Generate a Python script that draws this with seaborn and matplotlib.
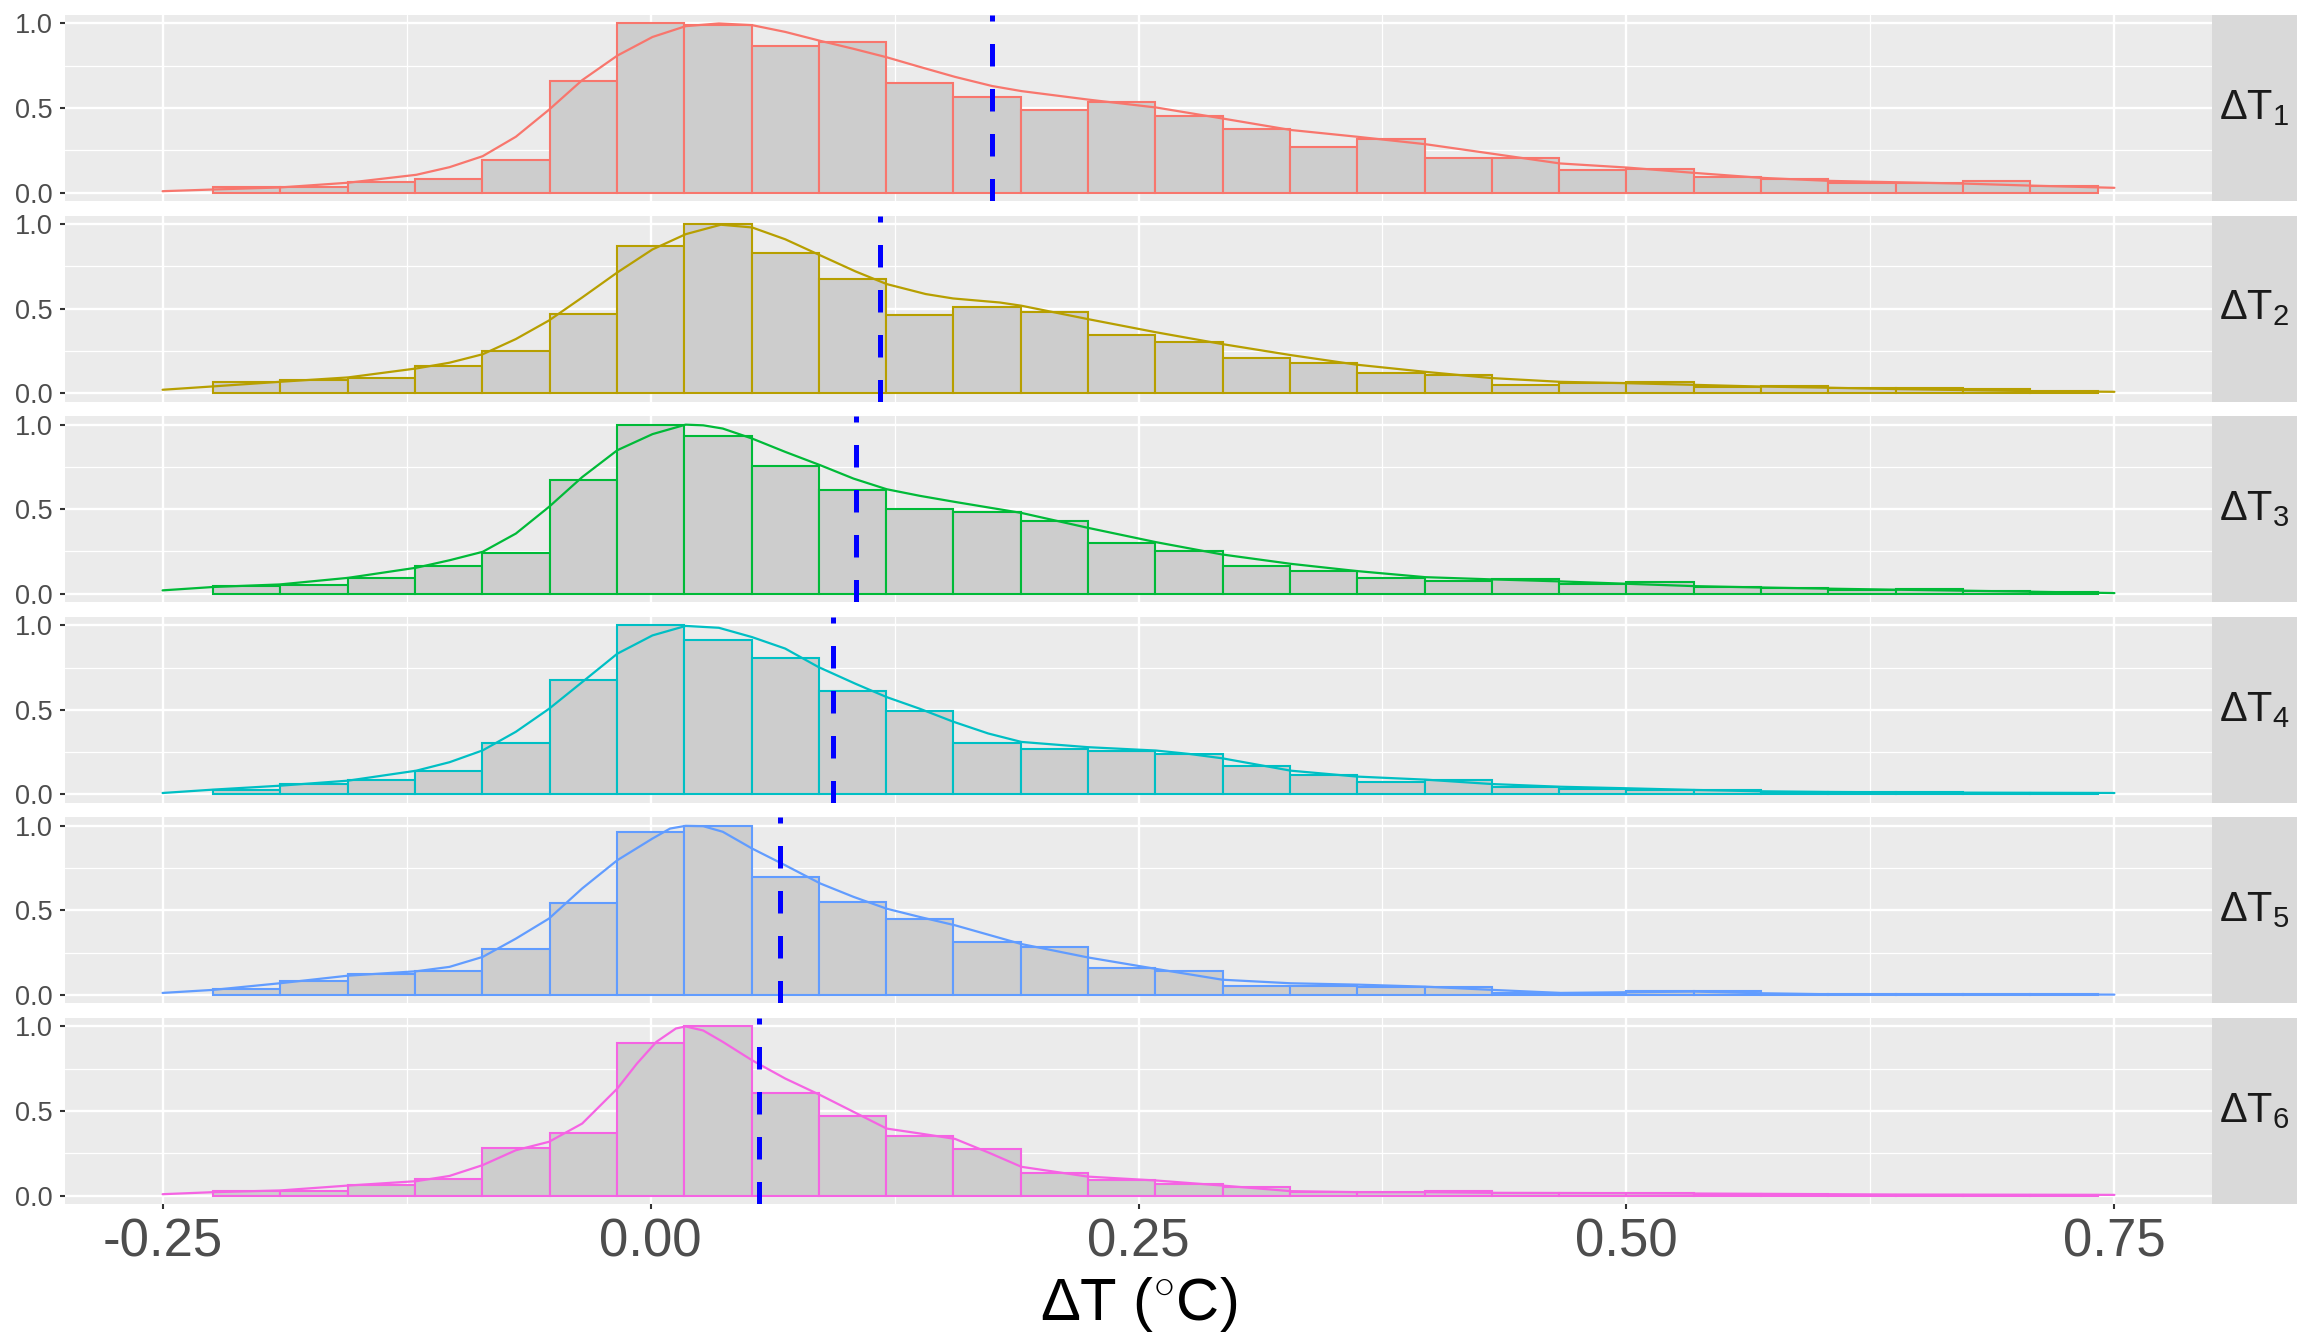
import numpy as np
import pandas as pd
import matplotlib
matplotlib.use("Agg")
import matplotlib.pyplot as plt
from matplotlib.ticker import FixedLocator
import seaborn as sns

sns.set_theme(style="darkgrid")
plt.rcParams["font.family"] = ["Liberation Sans", "DejaVu Sans"]
plt.rcParams["mathtext.fontset"] = "custom"
plt.rcParams["mathtext.rm"] = "Liberation Sans"
plt.rcParams["mathtext.it"] = "Liberation Sans:italic"
plt.rcParams["mathtext.bf"] = "Liberation Sans:bold"

# ---------------------------------------------------------------- data
series = ["1", "2", "3", "4", "5", "6"]
palette = ["#F8766D", "#B79F00", "#00BA38", "#00BFC4", "#619CFF", "#F564E3"]

# histogram bins (30 bins over the range, centred on 0)
bin_width = 1 / 29
bin_centers = (np.arange(28) - 6) * bin_width
bin_edges = list(np.append(bin_centers - bin_width / 2, bin_centers[-1] + bin_width / 2))

# bar heights, scaled so the tallest bar is 1
ncount_1 = [0.03, 0.03, 0.063, 0.079, 0.19, 0.66, 1.0, 0.99, 0.866, 0.89, 0.65, 0.564, 0.487, 0.536,
            0.454, 0.375, 0.27, 0.318, 0.203, 0.203, 0.136, 0.142, 0.093, 0.079, 0.059, 0.057, 0.067, 0.037]
ncount_2 = [0.067, 0.079, 0.087, 0.16, 0.252, 0.471, 0.87, 1.0, 0.83, 0.677, 0.46, 0.51, 0.48, 0.343,
            0.30, 0.205, 0.18, 0.118, 0.108, 0.049, 0.059, 0.063, 0.034, 0.043, 0.03, 0.028, 0.022, 0.014]
ncount_3 = [0.047, 0.05, 0.094, 0.165, 0.242, 0.67, 1.0, 0.93, 0.756, 0.612, 0.50, 0.482, 0.433, 0.30,
            0.252, 0.165, 0.134, 0.093, 0.075, 0.089, 0.059, 0.067, 0.037, 0.035, 0.024, 0.026, 0.018, 0.008]
ncount_4 = [0.028, 0.06, 0.083, 0.136, 0.304, 0.678, 1.0, 0.915, 0.806, 0.61, 0.49, 0.302, 0.269, 0.259,
            0.239, 0.17, 0.115, 0.071, 0.087, 0.045, 0.034, 0.028, 0.028, 0.016, 0.012, 0.012, 0.01, 0.008]
ncount_5 = [0.035, 0.085, 0.124, 0.142, 0.272, 0.543, 0.965, 1.0, 0.695, 0.551, 0.449, 0.315, 0.285, 0.157,
            0.14, 0.051, 0.051, 0.045, 0.045, 0.012, 0.006, 0.026, 0.022, 0.006, 0.006, 0.006, 0.006, 0.004]
ncount_6 = [0.024, 0.024, 0.065, 0.098, 0.28, 0.37, 0.90, 1.0, 0.606, 0.472, 0.354, 0.276, 0.132, 0.094,
            0.069, 0.049, 0.02, 0.02, 0.024, 0.016, 0.016, 0.016, 0.01, 0.01, 0.004, 0.004, 0.004, 0.004]
ncounts = [ncount_1, ncount_2, ncount_3, ncount_4, ncount_5, ncount_6]

# scaled density curves (x, y)
dens_x_1 = [-0.25, -0.224, -0.19, -0.155, -0.12, -0.103, -0.086, -0.069, -0.052, -0.035, -0.017, 0.001,
            0.018, 0.035, 0.052, 0.069, 0.087, 0.104, 0.121, 0.138, 0.156, 0.175, 0.19, 0.224, 0.259, 0.293,
            0.328, 0.362, 0.397, 0.431, 0.466, 0.5, 0.535, 0.569, 0.604, 0.638, 0.673, 0.707, 0.75]
dens_y_1 = [0.008, 0.018, 0.03, 0.058, 0.105, 0.15, 0.215, 0.33, 0.49, 0.665, 0.81, 0.92,
            0.984, 1.0, 0.99, 0.95, 0.897, 0.85, 0.80, 0.743, 0.684, 0.63, 0.60, 0.55, 0.503, 0.438,
            0.37, 0.33, 0.286, 0.23, 0.172, 0.148, 0.116, 0.087, 0.069, 0.061, 0.053, 0.041, 0.028]
dens_x_2 = [-0.25, -0.224, -0.19, -0.155, -0.12, -0.103, -0.086, -0.069, -0.052, -0.035, -0.017, 0.001,
            0.018, 0.036, 0.052, 0.069, 0.086, 0.105, 0.121, 0.141, 0.155, 0.179, 0.19, 0.224, 0.259, 0.293,
            0.328, 0.362, 0.397, 0.431, 0.466, 0.5, 0.535, 0.569, 0.604, 0.638, 0.673, 0.707, 0.75]
dens_y_2 = [0.02, 0.04, 0.067, 0.093, 0.146, 0.18, 0.23, 0.32, 0.43, 0.566, 0.714, 0.85,
            0.94, 0.996, 0.98, 0.91, 0.82, 0.72, 0.645, 0.586, 0.56, 0.536, 0.517, 0.438, 0.36, 0.29,
            0.225, 0.168, 0.126, 0.089, 0.067, 0.059, 0.049, 0.039, 0.032, 0.024, 0.018, 0.012, 0.008]
dens_x_3 = [-0.25, -0.224, -0.19, -0.155, -0.12, -0.103, -0.086, -0.069, -0.052, -0.035, -0.017, 0.001,
            0.018, 0.027, 0.037, 0.052, 0.069, 0.087, 0.104, 0.121, 0.138, 0.156, 0.19, 0.224, 0.259,
            0.293, 0.328, 0.362, 0.397, 0.431, 0.466, 0.5, 0.535, 0.569, 0.604, 0.638, 0.673, 0.707, 0.75]
dens_y_3 = [0.02, 0.04, 0.055, 0.094, 0.154, 0.198, 0.248, 0.356, 0.514, 0.69, 0.849, 0.944,
            1.0, 0.996, 0.977, 0.918, 0.839, 0.76, 0.681, 0.618, 0.579, 0.543, 0.478, 0.39, 0.305,
            0.232, 0.177, 0.134, 0.098, 0.085, 0.073, 0.059, 0.045, 0.037, 0.03, 0.024, 0.018, 0.012, 0.004]
dens_x_4 = [-0.25, -0.224, -0.19, -0.155, -0.12, -0.103, -0.086, -0.069, -0.052, -0.035, -0.017, 0.001,
            0.018, 0.035, 0.052, 0.069, 0.086, 0.105, 0.121, 0.138, 0.155, 0.173, 0.19, 0.224, 0.259,
            0.276, 0.293, 0.328, 0.362, 0.397, 0.431, 0.466, 0.5, 0.535, 0.569, 0.604, 0.673, 0.75]
dens_y_4 = [0.008, 0.028, 0.051, 0.081, 0.14, 0.19, 0.26, 0.37, 0.506, 0.664, 0.832, 0.94,
            0.996, 0.985, 0.93, 0.862, 0.753, 0.654, 0.575, 0.506, 0.43, 0.36, 0.31, 0.279, 0.259,
            0.239, 0.213, 0.14, 0.105, 0.087, 0.061, 0.045, 0.036, 0.026, 0.018, 0.014, 0.01, 0.008]
dens_x_5 = [-0.25, -0.224, -0.19, -0.155, -0.12, -0.103, -0.086, -0.069, -0.052, -0.035, -0.017, 0.001,
            0.01, 0.018, 0.027, 0.037, 0.052, 0.069, 0.087, 0.104, 0.121, 0.138, 0.156, 0.19, 0.224,
            0.259, 0.293, 0.328, 0.362, 0.397, 0.431, 0.466, 0.5, 0.535, 0.569, 0.604, 0.75]
dens_y_5 = [0.012, 0.03, 0.069, 0.114, 0.14, 0.166, 0.225, 0.333, 0.452, 0.63, 0.797, 0.925,
            0.984, 1.0, 0.998, 0.965, 0.866, 0.767, 0.659, 0.58, 0.51, 0.461, 0.412, 0.301, 0.222,
            0.154, 0.09, 0.069, 0.061, 0.049, 0.03, 0.012, 0.016, 0.02, 0.01, 0.004, 0.002]
dens_x_6 = [-0.25, -0.224, -0.19, -0.155, -0.12, -0.103, -0.086, -0.069, -0.052, -0.035, -0.017, -0.007,
            0.003, 0.013, 0.018, 0.027, 0.037, 0.052, 0.069, 0.087, 0.104, 0.121, 0.138, 0.156, 0.173,
            0.19, 0.224, 0.259, 0.293, 0.328, 0.362, 0.397, 0.431, 0.5, 0.569, 0.638, 0.75]
dens_y_6 = [0.008, 0.02, 0.03, 0.059, 0.085, 0.116, 0.18, 0.268, 0.318, 0.426, 0.633, 0.78,
            0.909, 0.988, 1.0, 0.976, 0.909, 0.80, 0.692, 0.594, 0.495, 0.396, 0.367, 0.335, 0.255,
            0.17, 0.112, 0.089, 0.059, 0.026, 0.02, 0.02, 0.016, 0.014, 0.01, 0.006, 0.004]
dens_x = [dens_x_1, dens_x_2, dens_x_3, dens_x_4, dens_x_5, dens_x_6]
dens_y = [dens_y_1, dens_y_2, dens_y_3, dens_y_4, dens_y_5, dens_y_6]

# mean of each series
means = [0.175, 0.1177, 0.1055, 0.0935, 0.0665, 0.0555]

x_ticks = [-0.25, 0.0, 0.25, 0.50, 0.75]
x_tick_labels = ["-0.25", "0.00", "0.25", "0.50", "0.75"]
x_minor = [-0.125, 0.125, 0.375, 0.625]
y_ticks = [0.0, 0.5, 1.0]
y_tick_labels = ["0.0", "0.5", "1.0"]
y_minor = [0.25, 0.75]

# ---------------------------------------------------------------- layout
W, H = 2297, 1336
fig = plt.figure(figsize=(W / 100, H / 100), dpi=100)
fig.patch.set_facecolor("white")

panel_left, panel_right = 65, 2212
strip_right = 2297
panel_h = 186
panel_step = 200.6
panel_top0 = 15

FILL = "#CDCDCD"
PANEL_BG = "#EBEBEB"
STRIP_BG = "#D9D9D9"

for i, name in enumerate(series):
    top = panel_top0 + i * panel_step
    rect = [panel_left / W, 1 - (top + panel_h) / H, (panel_right - panel_left) / W, panel_h / H]
    ax = fig.add_axes(rect)
    ax.set_facecolor(PANEL_BG)
    ax.set_axisbelow(True)

    bars = pd.DataFrame({"center": bin_centers, "ncount": ncounts[i]})
    sns.histplot(data=bars, x="center", weights="ncount", bins=bin_edges, ax=ax,
                 facecolor=FILL, edgecolor=palette[i], linewidth=1.5, zorder=2)
    sns.lineplot(x=dens_x[i], y=dens_y[i], ax=ax, color=palette[i], linewidth=1.6, zorder=3)
    ax.axvline(means[i], color="blue", linewidth=3.6, linestyle=(0, (4.5, 4.5)), zorder=4)

    ax.set_xlim(-0.30, 0.80)
    ax.set_ylim(-0.05, 1.05)
    ax.set_xlabel("")
    ax.set_ylabel("")

    ax.xaxis.set_major_locator(FixedLocator(x_ticks))
    ax.xaxis.set_minor_locator(FixedLocator(x_minor))
    ax.yaxis.set_major_locator(FixedLocator(y_ticks))
    ax.yaxis.set_minor_locator(FixedLocator(y_minor))
    ax.set_yticklabels(y_tick_labels)
    ax.grid(which="major", color="white", linewidth=1.7)
    ax.grid(which="minor", color="white", linewidth=0.9)
    for s in ax.spines.values():
        s.set_visible(False)

    ax.tick_params(axis="y", which="major", left=True, length=3.6, width=1.5, color="#333333",
                   labelcolor="#4D4D4D", labelsize=19.5, pad=5.3)
    ax.tick_params(axis="both", which="minor", length=0)
    if i == len(series) - 1:
        ax.set_xticklabels(x_tick_labels)
        ax.tick_params(axis="x", which="major", bottom=True, length=3.6, width=1.5, color="#333333",
                       labelcolor="#4D4D4D", labelsize=38, pad=6)
    else:
        ax.tick_params(axis="x", which="major", bottom=False, labelbottom=False, length=0)

    # facet strip on the right
    sax = fig.add_axes([panel_right / W, rect[1], (strip_right - panel_right) / W, rect[3]])
    sax.set_facecolor(STRIP_BG)
    sax.set_xticks([])
    sax.set_yticks([])
    for s in sax.spines.values():
        s.set_visible(False)
    sax.grid(False)
    sax.text(0.5, 0.5, r"$\mathrm{\Delta T}_{%s}$" % name, transform=sax.transAxes,
             ha="center", va="center", fontsize=30, color="#1A1A1A")

fig.text((panel_left + panel_right) / 2 / W, 1 - 1320 / H, r"$\mathrm{\Delta T\ (^{\circ}C)}$",
         ha="center", va="baseline", fontsize=43, color="black")

fig.savefig("out.png", dpi=100, facecolor="white")
